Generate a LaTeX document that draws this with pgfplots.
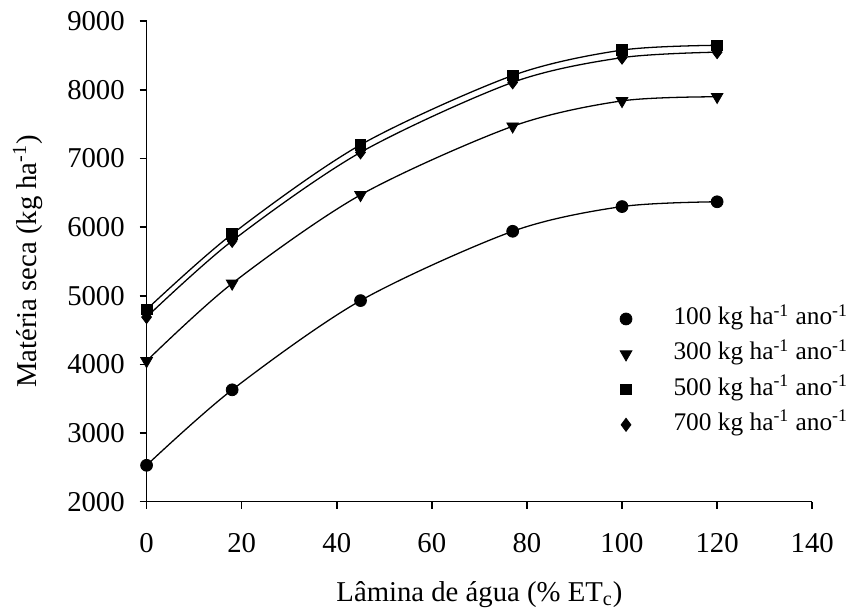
\documentclass[border=0pt]{standalone}
\usepackage{pgfplots}
\pgfplotsset{compat=1.18}
\usepackage{pgfplotstable}
\usepackage{fontspec}
\setmainfont{Liberation Serif}
\pgfplotstableread{
x    a    b    c    d
0    2530 4050 4800 4690
18   3630 5180 5900 5800
45   4930 6470 7200 7090
77   5940 7470 8210 8110
100  6300 7840 8580 8470
120  6370 7900 8650 8550
}\data
\begin{document}
\begin{tikzpicture}[font=\fontsize{14.5}{17}\selectfont]
\begin{axis}[
  scale only axis, width=336pt, height=242.5pt,
  xmin=0, xmax=140, ymin=2000, ymax=9000,
  axis lines=left, axis line style={-, line width=0.8pt},
  xtick={0,20,...,140}, ytick={2000,3000,...,9000},
  tick align=outside, major tick length=3.5pt,
  tick style={black, line width=0.8pt},
  /pgf/number format/1000 sep={}, /pgf/number format/assume math mode=true,
  xticklabel style={yshift=-9pt},
  yticklabel style={xshift=-4pt},
  xlabel={Lâmina de água (\% ET\textsubscript{c})},
  ylabel={Matéria seca (kg ha\textsuperscript{-1})},
  xlabel style={at={(rel axis cs:0.5,-0.2082)}, anchor=base},
  ylabel style={at={(rel axis cs:-0.1786,0.5)}, anchor=center, rotate=0},
  clip=false,
  legend cell align=left,
  legend style={draw=none, fill=none, at={(rel axis cs:0.707,0.417)}, anchor=north west,
     inner xsep=0pt, inner ysep=0pt, outer sep=0pt,
     font=\fontsize{12.8}{15}\selectfont,
     row sep=0pt, nodes={inner sep=1pt, text height=10.8pt, text depth=5pt}},
  legend image code/.code={\path (0cm,0cm) (0.95cm,0cm); \draw[#1] plot coordinates {(0.15cm,0cm)};},
]
\addplot[black, line width=0.65pt, smooth, forget plot] table[x=x,y=a]{\data};
\addplot[black, line width=0.65pt, smooth, forget plot] table[x=x,y=b]{\data};
\addplot[black, line width=0.65pt, smooth, forget plot] table[x=x,y=c]{\data};
\addplot[black, line width=0.65pt, smooth, forget plot] table[x=x,y=d]{\data};
\addplot[only marks, mark=*, mark size=3pt, black] table[x=x,y=a]{\data};
\addplot[only marks, mark=triangle*, mark size=3.4pt, black, every mark/.append style={rotate=180}] table[x=x,y=b]{\data};
\addplot[only marks, mark=square*, mark size=2.7pt, black] table[x=x,y=c]{\data};
\addplot[only marks, mark=diamond*, mark size=3.3pt, black] table[x=x,y=d]{\data};
\legend{100 kg ha\textsuperscript{-1} ano\textsuperscript{-1},
        300 kg ha\textsuperscript{-1} ano\textsuperscript{-1},
        500 kg ha\textsuperscript{-1} ano\textsuperscript{-1},
        700 kg ha\textsuperscript{-1} ano\textsuperscript{-1}}
\path (rel axis cs:-0.2202,-0.233) rectangle (rel axis cs:1.0446,1.0443);
\end{axis}
\end{tikzpicture}
\end{document}
